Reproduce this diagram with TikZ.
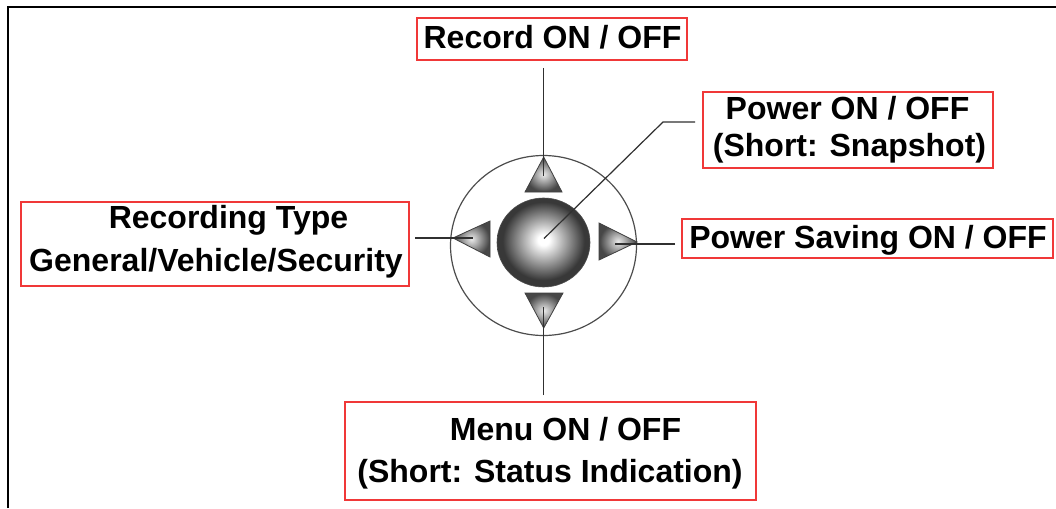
\documentclass[tikz,border=0pt]{standalone}
\usepackage{fontspec}
\setmainfont{Liberation Sans}
\definecolor{redbox}{HTML}{F03838}
\definecolor{lead}{HTML}{303030}
\tikzset{
  x=1pt,y=-1pt,
  labelbox/.style={draw=redbox,line width=1.5pt,inner sep=0pt,rectangle},
  labeltext/.style={anchor=base,inner sep=0pt,font=\fontsize{32}{36}\selectfont\bfseries},
  leader/.style={draw=lead,line width=1.6pt},
  ringline/.style={draw=black!70,line width=1.2pt},
  tri/.style={shading=trishade,draw=black!75,line width=.8pt}
}
\pgfdeclareradialshading{knob}{\pgfpoint{0bp}{1.5bp}}{color(0bp)=(white);color(3bp)=(white);color(22bp)=(black!78);color(50bp)=(black!78)}
\pgfdeclareradialshading{trishade}{\pgfpoint{0bp}{0bp}}{color(0bp)=(white!92!black);color(24bp)=(black!72);color(50bp)=(black!72)}
\newcommand{\boxat}[5]{\node[labelbox,minimum width=#4-#2,minimum height=#5-#3] (#1) at ({(#2+#4)/2},{(#3+#5)/2}) {};}
\begin{document}
\begin{tikzpicture}
\useasboundingbox (0,0) rectangle (1056,508);
\fill[white] (0,0) rectangle (1056,508);
\draw[black,line width=2.2pt] (8,508) -- (8,7) -- (1056,7);
% ring and knob
\draw[ringline] (543.5,245.5) ellipse [x radius=93,y radius=90];
\shade[shading=knob,draw=black!70,line width=.6pt] (543.5,242.5) ellipse [x radius=46.5,y radius=44.5];
\node[circle,minimum size=1pt,inner sep=0pt] (centre) at (543.5,239) {};
% triangles
\shade[tri] (543.7,157) -- (562,192) -- (525,192) -- cycle;
\shade[tri] (543.7,328) -- (563,293) -- (525,293) -- cycle;
\shade[tri] (453,238) -- (490,221) -- (490,257) -- cycle;
\shade[tri] (637,242) -- (599,223) -- (599,260) -- cycle;
% label boxes
\boxat{rec}{417}{18}{687}{60}
\boxat{pow}{703}{92}{993}{168}
\boxat{sav}{682}{219}{1053}{258}
\boxat{typ}{21}{202}{409}{286}
\boxat{men}{345}{402}{756}{500}
% label texts
\node[labeltext] (reca) at (552.5,49) {Record ON / OFF};
\node[labeltext] (powa) at (847.5,119) {Power ON / OFF};
\node[labeltext] (powb) at (849.5,156) {(Short: Snapshot)};
\node[labeltext] (sava) at (868,248) {Power Saving ON / OFF};
\node[labeltext] (typa) at (228.5,228) {Recording Type};
\node[labeltext] (typb) at (216,271) {General/Vehicle/Security};
\node[labeltext] (mena) at (565.5,440) {Menu ON / OFF};
\node[labeltext] (menb) at (550,482) {(Short: Status Indication)};
% leaders
\coordinate (recend) at (543.5,176);
\coordinate (menend) at (543.5,307);
\coordinate (typend) at (473,238);
\coordinate (savend) at (615,244);
\coordinate (powbend) at (663,122);
\coordinate (recstart) at (543.5,68);
\coordinate (menstart) at (543.5,395);
\coordinate (typstart) at (415,238);
\coordinate (savstart) at (675,244);
\coordinate (powstart) at (695,122);
\draw[leader] (recstart) -- (recend);
\draw[leader] (menstart) -- (menend);
\draw[leader] (typstart) -- (typend);
\draw[leader] (savstart) -- (savend);
\draw[leader,line width=1.2pt] (powstart) -- (powbend) -- (centre);
\end{tikzpicture}
\end{document}
